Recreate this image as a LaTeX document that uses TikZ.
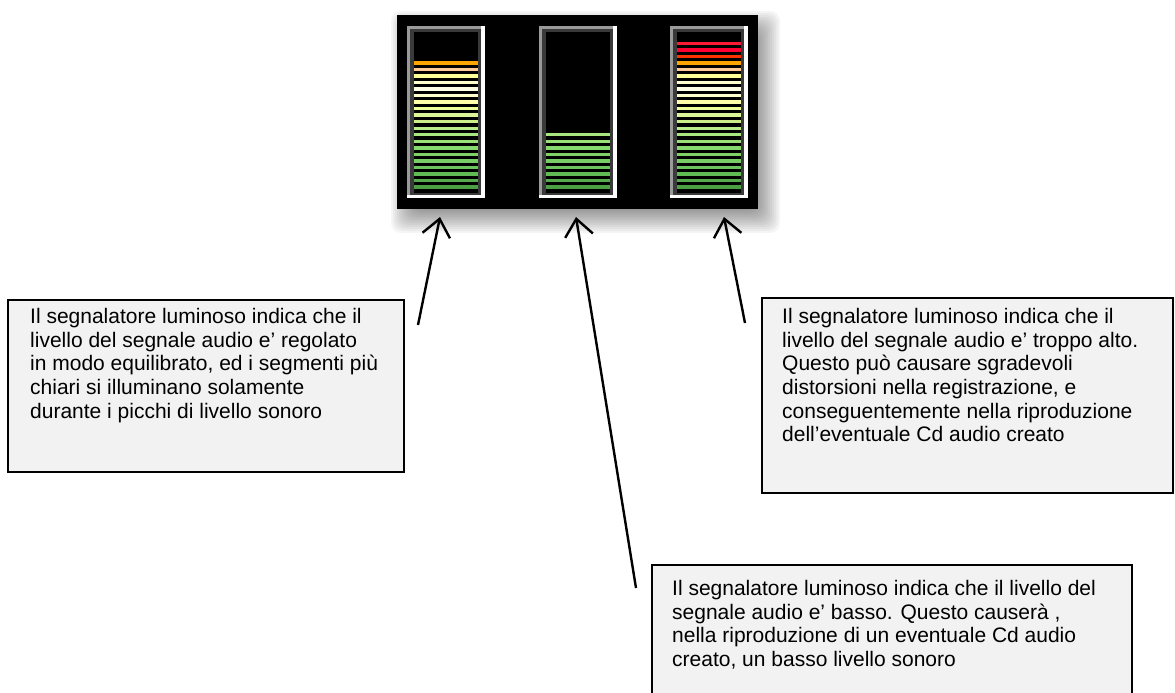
\documentclass[tikz,border=0pt]{standalone}
\usepackage{fontspec}
\setmainfont{Liberation Sans}
\usetikzlibrary{arrows.meta}

% colours of the meter segments, from the bottom one up
\definecolor{bar1}{HTML}{4CA044}
\definecolor{bar2}{HTML}{55AA4C}
\definecolor{bar3}{HTML}{60BB55}
\definecolor{bar4}{HTML}{6CC45C}
\definecolor{bar5}{HTML}{77CC66}
\definecolor{bar6}{HTML}{80D066}
\definecolor{bar7}{HTML}{88D870}
\definecolor{bar8}{HTML}{99DD77}
\definecolor{bar9}{HTML}{AAE680}
\definecolor{bar10}{HTML}{BBEE88}
\definecolor{bar11}{HTML}{CCEE88}
\definecolor{bar12}{HTML}{DDF599}
\definecolor{bar13}{HTML}{EEFF99}
\definecolor{bar14}{HTML}{FFFFAA}
\definecolor{bar15}{HTML}{FFFFCC}
\definecolor{bar16}{HTML}{FFFFE6}
\definecolor{bar17}{HTML}{FFFFCC}
\definecolor{bar18}{HTML}{FFFF99}
\definecolor{bar19}{HTML}{FFCC99}
\definecolor{bar20}{HTML}{FFA500}
\definecolor{bar21}{HTML}{FF3300}
\definecolor{bar22}{HTML}{FF0033}
\definecolor{bar23}{HTML}{FF1A33}
\definecolor{boxfill}{HTML}{F2F2F2}
\definecolor{frameLight}{HTML}{9A9A9A}
\definecolor{frameDark}{HTML}{3A3A3A}

\begin{document}
\begin{tikzpicture}[x=1pt,y=-1pt,
    notebox/.style={draw=black,line width=2pt,fill=boxfill},
    notetext/.style={anchor=north west,inner sep=0pt,align=left,
      font=\fontsize{21}{23.7}\selectfont},
    pointer/.style={line width=2.4pt,-{Straight Barb[length=17pt,width=28pt]}}]
                        \useasboundingbox (0,0) rectangle (1175,693);
                        \clip (0,0) rectangle (1175,693);

                        % Drawing soft shadow of the panel
                        \foreach \s in {0,2,...,26}
                          \fill[black,opacity=0.04,rounded corners=10pt] (391+\s,11+\s) rectangle (780-\s,233-\s);%

                        % Drawing panel
                        \fill[black] (397,15) rectangle (758,209);%

                        % Drawing meters and their lit segments
                        \foreach \x/\n in {407/20,539/9,670/23} {
                          \fill[white] (\x,26) rectangle (\x+78,198);%
                          \fill[frameLight] (\x,26) rectangle (\x+74,195);%
                          \fill[frameDark] (\x+3,29) rectangle (\x+74,195);%
                          \fill[black] (\x+7,32) rectangle (\x+71,193);%
                          \foreach \k in {1,...,\n}
                            \fill[fill=bar\k] (\x+7,{187-6.53*(\k-1)-1.7}) rectangle (\x+71,{187-6.53*(\k-1)+1.7});%
                        }

                        % Drawing note for the balanced level
                        \draw[notebox] (8,300) rectangle (404,472);%
                        \node[notetext] (noteA) at (30,308) {Il segnalatore luminoso indica che il\\livello del segnale audio e’ regolato\\in modo equilibrato, ed i segmenti più\\chiari si illuminano solamente\\durante i picchi di livello sonoro};%

                        % Drawing note for the high level
                        \draw[notebox] (762,298) rectangle (1173,493);%
                        \node[notetext] (noteC) at (782,308) {Il segnalatore luminoso indica che il\\livello del segnale audio e’ troppo alto.\\Questo può causare sgradevoli\\distorsioni nella registrazione, e\\conseguentemente nella riproduzione\\dell’eventuale Cd audio creato};%

                        % Drawing note for the low level
                        \draw[notebox] (652,565) rectangle (1132,720);%
                        \node[notetext] (noteB) at (672,580) {Il segnalatore luminoso indica che il livello del\\segnale audio e’ basso. Questo causerà ,\\nella riproduzione di un eventuale Cd audio\\creato, un basso livello sonoro};%

                        % Drawing arrows to the meters
                        \coordinate (tailA) at (418,325);
                        \coordinate (tipA) at (440,217);
                        \coordinate (tailB) at (636,588);
                        \coordinate (tipB) at (576,217);
                        \coordinate (tailC) at (745,323);
                        \coordinate (tipC) at (724,217);
                        \draw[pointer] (tailA) -- (tipA);%
                        \draw[pointer] (tailB) -- (tipB);%
                        \draw[pointer] (tailC) -- (tipC);%
\end{tikzpicture}
\end{document}
